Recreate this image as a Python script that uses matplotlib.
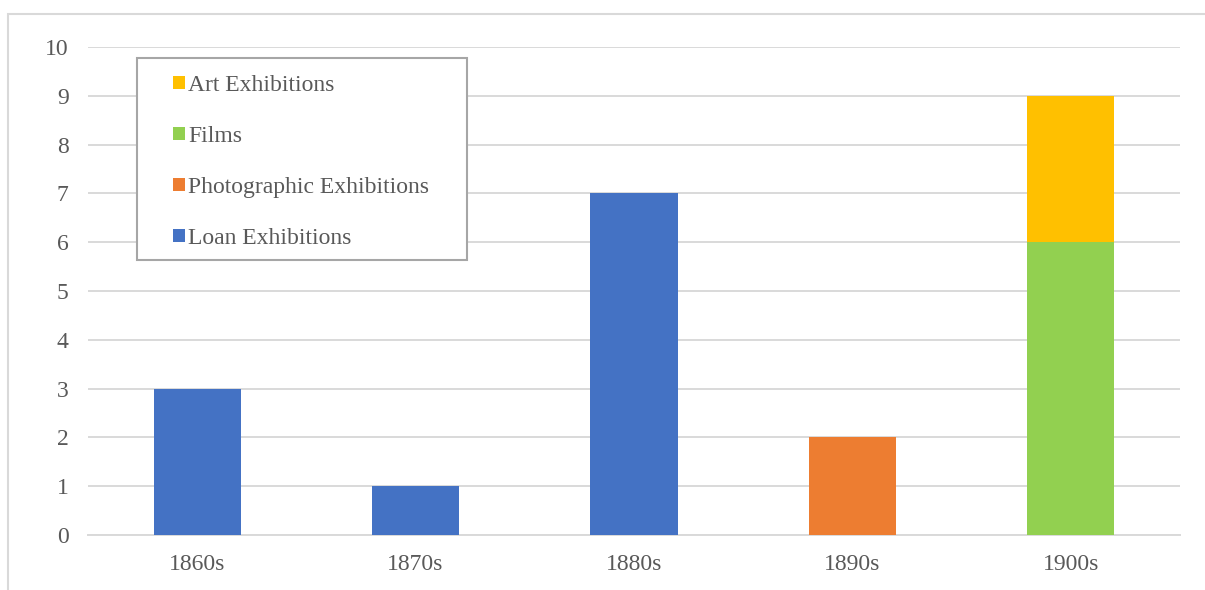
import numpy as np
import matplotlib.pyplot as plt
from matplotlib.patches import Patch, Rectangle

plt.rcParams['font.family'] = ['Liberation Serif', 'DejaVu Serif']

decades = ['1860s', '1870s', '1880s', '1890s', '1900s']
loan = [3, 1, 7, 0, 0]
photographic = [0, 0, 0, 2, 0]
films = [0, 0, 0, 0, 6]
art = [0, 0, 0, 0, 3]

series = [
    ('Loan Exhibitions', loan, '#4472C4'),
    ('Photographic Exhibitions', photographic, '#ED7D31'),
    ('Films', films, '#92D050'),
    ('Art Exhibitions', art, '#FFC000'),
]

W, H = 1205, 590
fig = plt.figure(figsize=(W / 100, H / 100), dpi=100)
ax = fig.add_axes([88 / W, 1 - 535 / H, (1180 - 88) / W, (535 - 47) / H])

x = np.arange(len(decades))
bottom = np.zeros(len(decades))
for name, vals, col in series:
    ax.bar(x, vals, width=0.4, bottom=bottom, color=col, label=name, zorder=3)
    bottom += np.array(vals)

ax.set_xlim(-0.5, len(decades) - 0.5)
ax.set_ylim(0, 10)
ax.set_yticks(range(0, 11))
ax.set_xticks(x)
ax.set_xticklabels(decades)
ax.yaxis.grid(True, color='#D9D9D9', linewidth=1.4, zorder=0)
ax.set_axisbelow(True)
for s in ['top', 'right', 'left']:
    ax.spines[s].set_visible(False)
ax.spines['bottom'].set_color('#D9D9D9')
ax.spines['bottom'].set_linewidth(1.4)
ax.tick_params(length=0, labelsize=17, colors='#595959')
ax.tick_params(axis='y', pad=14)
ax.tick_params(axis='x', pad=14)

# legend box drawn separately so the padding can be wider than tall
fig.add_artist(Rectangle((137 / W, 1 - 260 / H), 330 / W, 202 / H,
                         transform=fig.transFigure, facecolor='white',
                         edgecolor='#A6A6A6', linewidth=1.5, zorder=4))
handles = [Patch(facecolor=c, edgecolor='none') for _, _, c in series][::-1]
labels = [n for n, _, _ in series][::-1]
leg = fig.legend(handles, labels, loc='upper left',
                 bbox_to_anchor=(173 / W, 1 - 75 / H), borderaxespad=0,
                 fontsize=17, frameon=False, handlelength=0.5,
                 handleheight=0.5, handletextpad=0.15, labelspacing=1.27,
                 borderpad=0)
leg.set_zorder(5)
for t in leg.get_texts():
    t.set_color('#595959')

# chart area border
fig.add_artist(Rectangle((8 / W, -0.1), 1.2, 1 - 14 / H + 0.1,
                         transform=fig.transFigure, fill=False,
                         edgecolor='#D9D9D9', linewidth=1.5))

fig.savefig('out.png', dpi=100)
